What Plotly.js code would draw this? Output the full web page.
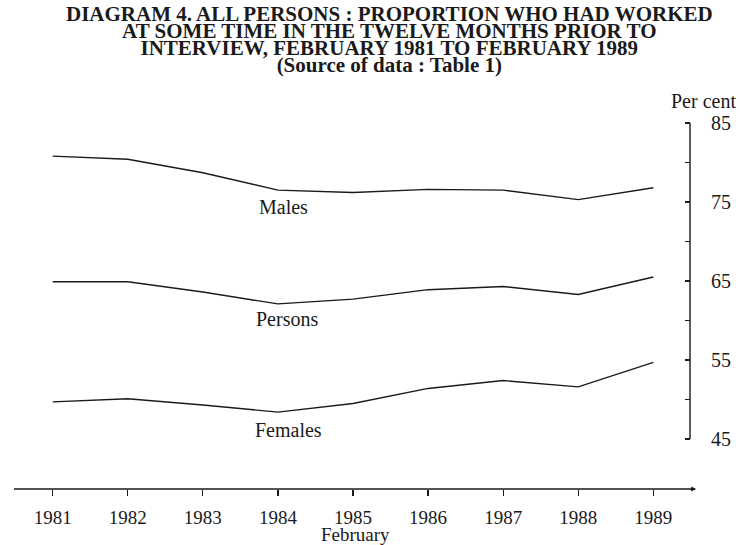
<!DOCTYPE html>
<html>
<head>
<meta charset="utf-8">
<script src="https://cdn.plot.ly/plotly-3.0.1.min.js"></script>
<style>html,body{margin:0;padding:0;background:#fff;}#chart{width:740px;height:545px;}</style>
</head>
<body>
<div id="chart"></div>
<script>
var years = [1981, 1982, 1983, 1984, 1985, 1986, 1987, 1988, 1989];
var males = [80.8, 80.4, 78.7, 76.5, 76.2, 76.6, 76.5, 75.3, 76.8];
var persons = [64.9, 64.9, 63.6, 62.1, 62.7, 63.9, 64.3, 63.3, 65.5];
var females = [49.7, 50.1, 49.3, 48.4, 49.5, 51.4, 52.4, 51.6, 54.7];
var yTickVals = [45, 50, 55, 60, 65, 70, 75, 80, 85];
var yTickText = ['45', '', '55', '', '65', '', '75', '', '85'];
var xTickText = ['1981', '1982', '1983', '1984', '1985', '1986', '1987', '1988', '1989'];
var seriesNames = ['Males', 'Persons', 'Females'];
var titleLines = [
  'DIAGRAM 4. ALL PERSONS : PROPORTION WHO HAD WORKED',
  'AT SOME TIME IN THE TWELVE MONTHS PRIOR TO',
  'INTERVIEW, FEBRUARY 1981 TO FEBRUARY 1989',
  '(Source of data : Table 1)'
];

var lineStyle = {color: '#1a1a1a', width: 1.4};
var traces = [males, persons, females].map(function (vals, i) {
  return {x: years, y: vals, type: 'scatter', mode: 'lines', name: seriesNames[i], line: lineStyle, hoverinfo: 'x+y'};
});

var serif = 'Liberation Serif, Times New Roman, serif';
var W = 740, H = 545;
var mL = 14, mR = 30, mT = 115, mB = 56;
var plotW = W - mL - mR, plotH = H - mT - mB;
function px2paperX(p) { return (p - mL) / plotW; }
function px2paperY(p) { return (H - mB - p) / plotH; }
var yRange = [38.67, 86.01];

var annotations = [];
// one text block; small base font keeps the tight leading of the original, spans set glyph size
var titleText = titleLines.map(function (t) {
  return '<span style="font-size:21px"><b>' + t + '</b></span>';
}).join('<br>');
annotations.push({text: titleText, xref: 'paper', yref: 'paper', x: px2paperX(389), y: px2paperY(0),
  xanchor: 'center', yanchor: 'top', showarrow: false, align: 'center',
  font: {family: serif, size: 13.2, color: '#1a1a1a'}});
annotations.push({text: 'Per cent', xref: 'paper', yref: 'paper', x: px2paperX(703), y: px2paperY(101),
  xanchor: 'center', yanchor: 'middle', showarrow: false, font: {family: serif, size: 20, color: '#1a1a1a'}});
annotations.push({text: 'February', xref: 'paper', yref: 'paper', x: px2paperX(355), y: px2paperY(534),
  xanchor: 'center', yanchor: 'middle', showarrow: false, font: {family: serif, size: 19, color: '#1a1a1a'}});
var labelPos = [[283, 207], [287, 319], [288, 430]];
seriesNames.forEach(function (n, i) {
  annotations.push({text: n, xref: 'paper', yref: 'paper', x: px2paperX(labelPos[i][0]), y: px2paperY(labelPos[i][1]),
    xanchor: 'center', yanchor: 'middle', showarrow: false, font: {family: serif, size: 20, color: '#1a1a1a'}});
});
// small arrow head at the right end of the time axis
annotations.push({text: '', xref: 'paper', yref: 'paper', x: px2paperX(696), y: 0, ax: -7, ay: 0,
  showarrow: true, arrowhead: 2, arrowsize: 0.8, arrowwidth: 1.2, arrowcolor: '#1a1a1a'});

var axisPos = px2paperX(690);

var layout = {
  width: W, height: H,
  margin: {l: mL, r: mR, t: mT, b: mB},
  paper_bgcolor: '#ffffff', plot_bgcolor: '#ffffff',
  showlegend: false,
  font: {family: serif, color: '#1a1a1a'},
  xaxis: {
    range: [1980.4846, 1989.755], tickvals: years, ticktext: xTickText,
    showgrid: false, zeroline: false, showline: false,
    ticks: 'outside', ticklen: 6, tickwidth: 1.2, tickcolor: '#1a1a1a',
    tickfont: {family: serif, size: 19, color: '#1a1a1a'}, ticklabelstandoff: 5
  },
  // axis with the tick marks (pointing left, towards the lines)
  yaxis: {
    range: yRange, side: 'right', anchor: 'free', position: axisPos,
    tickvals: yTickVals, showticklabels: false,
    showgrid: false, zeroline: false, showline: false,
    ticks: 'inside', ticklen: 5, tickwidth: 1.2, tickcolor: '#1a1a1a'
  },
  // axis that carries the tick labels, set off to the right as in the original
  yaxis2: {
    range: yRange, overlaying: 'y', matches: 'y', side: 'right', anchor: 'free', position: px2paperX(710),
    tickvals: yTickVals, ticktext: yTickText, ticks: '',
    showgrid: false, zeroline: false, showline: false,
    tickfont: {family: serif, size: 20, color: '#1a1a1a'}
  },
  shapes: [
    {type: 'line', xref: 'paper', yref: 'paper', x0: 0, x1: px2paperX(695), y0: 0, y1: 0, line: {color: '#1a1a1a', width: 1.4}},
    {type: 'line', xref: 'paper', yref: 'y', x0: axisPos, x1: axisPos, y0: 45, y1: 85, line: {color: '#1a1a1a', width: 1.4}}
  ],
  annotations: annotations
};

// an invisible trace so the label axis is drawn
traces.push({x: [years[0]], y: [yTickVals[0]], yaxis: 'y2', type: 'scatter', mode: 'markers',
  marker: {opacity: 0}, hoverinfo: 'skip', showlegend: false});

Plotly.newPlot('chart', traces, layout, {displayModeBar: false, staticPlot: true});
</script>
</body>
</html>
